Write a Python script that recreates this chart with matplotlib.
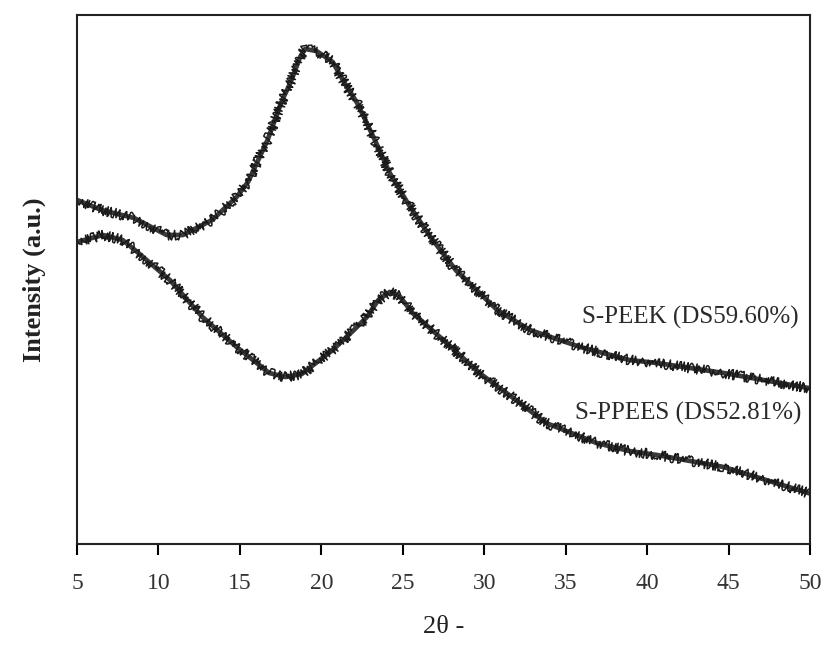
import matplotlib
matplotlib.use("Agg")
import matplotlib.pyplot as plt

# values (arbitrary intensity units)
peek_x = [5.0, 6.5, 8.5, 10.5, 11.5, 13.3, 14.8, 15.5, 16.7, 17.6, 18.1, 18.7, 19.0,
          19.7, 20.7, 21.5, 22.2, 23.2, 24.2, 25.3, 26.7, 28.3, 28.7, 30.8, 32.8,
          35.9, 38.9, 40.6, 44.7, 49.9]
peek_y = [344, 334, 326, 309, 309, 324, 347, 362, 404, 444, 461, 487, 495,
          493, 482, 459, 441, 407, 371, 341, 307, 273, 267, 234, 214,
          197, 184, 181, 171, 156]

ppees_x = [5.0, 6.6, 7.8, 8.7, 10.7, 12.7, 14.8, 16.8, 17.8, 18.8, 19.9, 20.7,
           22.0, 22.8, 23.5, 24.2, 24.8, 25.6, 27.7, 29.7, 31.7, 33.8, 36.9,
           38.9, 40.6, 44.7, 49.9]
ppees_y = [302, 309, 304, 292, 264, 227, 197, 171, 167, 170, 184, 194,
           214, 227, 244, 252, 248, 231, 201, 171, 147, 121, 101,
           93, 89, 77, 51]

labels = ["S-PEEK (DS59.60%)", "S-PPEES (DS52.81%)"]
xticks = [5, 10, 15, 20, 25, 30, 35, 40, 45, 50]

plt.rcParams['font.family'] = ['Liberation Serif', 'DejaVu Serif']

fig = plt.figure(figsize=(8.27, 6.46), dpi=100)
ax = fig.add_axes([0.0931, 0.1579, 0.8863, 0.8189])

for xs, ys in [(peek_x, peek_y), (ppees_x, ppees_y)]:
    ax.plot(xs, ys, color="#3a3a3a", lw=3.4, solid_joinstyle="round")
    # jagged overlay to mimic the detector noise texture
    noisy, = ax.plot(xs, ys, color="#1a1a1a", lw=1.1)
    noisy.set_sketch_params(scale=5, length=2.5, randomness=12)

ax.text(49.3, 227, labels[0], ha="right", va="center", fontsize=18, color="#2a2a2a")
ax.text(49.5, 131, labels[1], ha="right", va="center", fontsize=18, color="#2a2a2a")

ax.set_xlim(5, 50)
ax.set_ylim(0, 529)
ax.set_xticks(xticks)
ax.set_xticklabels([str(t) for t in xticks], fontsize=17, color="#333333")
ax.set_yticks([])
ax.tick_params(axis="x", direction="out", length=8, width=1.5, pad=13)
for sp in ax.spines.values():
    sp.set_linewidth(1.5)
    sp.set_color("#222222")

ax.set_xlabel("2θ -", fontsize=19, labelpad=16, color="#222222")
ax.set_ylabel("Intensity (a.u.)", fontsize=19, fontweight="bold", labelpad=22, color="#222222")

fig.savefig("out.png", dpi=100)
